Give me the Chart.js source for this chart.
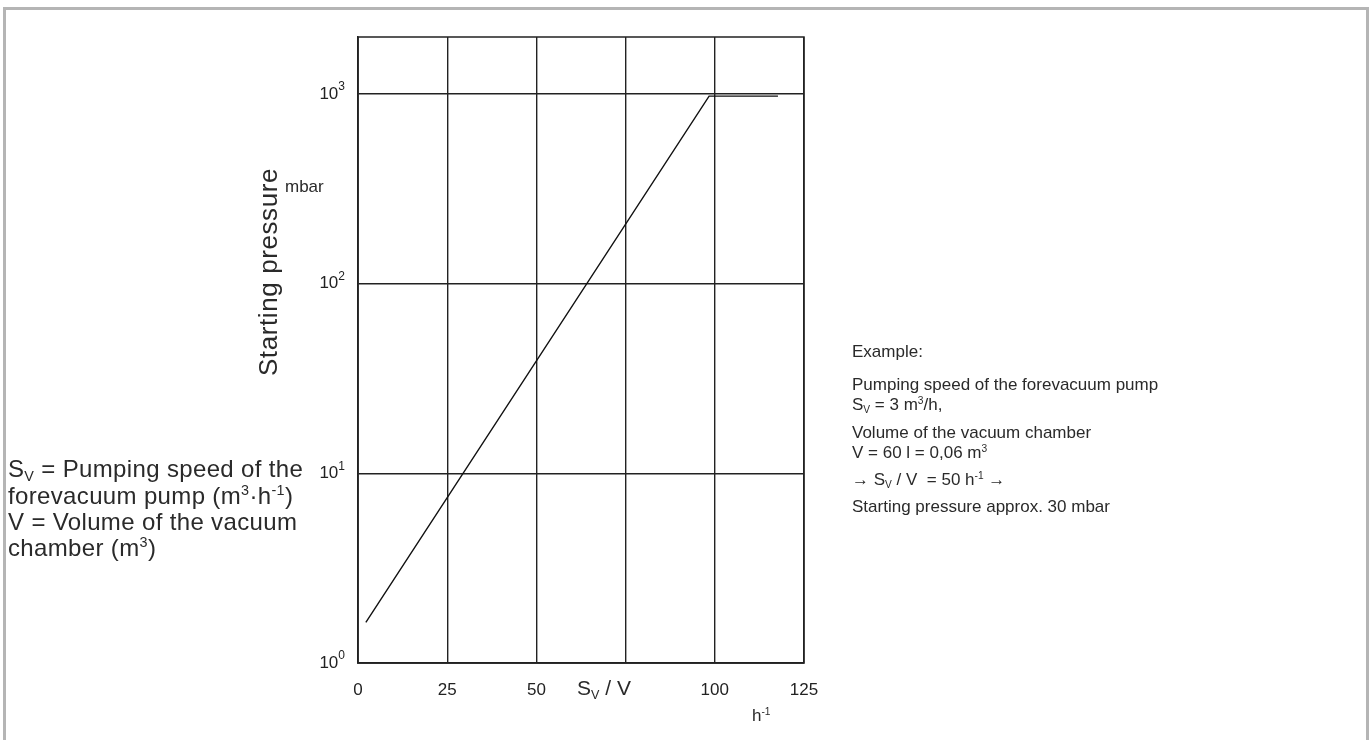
<!DOCTYPE html>
<html>
<head>
<meta charset="utf-8">
<script src="https://cdn.jsdelivr.net/npm/chart.js@4"></script>
<style>
  html, body { margin: 0; padding: 0; background: #fff; }
  body { width: 1372px; height: 740px; position: relative; overflow: hidden;
         font-family: "Liberation Sans", Arial, sans-serif; color: #2a2a2a; }
  #frame { position: absolute; left: 3px; top: 7px; width: 1360px; height: 800px;
           border: 3px solid #b5b5b5; border-bottom: none; }
  #chart { position: absolute; left: 0; top: 0; }
  .t { position: absolute; white-space: nowrap; line-height: 1; }
  .t sup { font-size: 60%; vertical-align: 0.6em; line-height: 0; }
  .t sub { font-size: 60%; vertical-align: -0.3em; line-height: 0; }
  .left { font-size: 24px; letter-spacing: 0.35px; }
  .right { font-size: 17px; }
  #ytitle { position: absolute; left: 268px; top: 272px; font-size: 26px; letter-spacing: 0.6px;
            transform: translate(-50%, -50%) rotate(-90deg); white-space: nowrap; line-height: 1; }
</style>
</head>
<body>
<div id="frame"></div>
<canvas id="chart" width="1372" height="740"></canvas>

<!-- 축 보조 라벨 -->
<div id="ytitle">Starting pressure</div>
<div class="t" style="left:285px; top:178px; font-size:17px;">mbar</div>
<div class="t" style="left:577px; top:677px; font-size:21px;">S<sub>V</sub> / V</div>
<div class="t" style="left:752px; top:707px; font-size:17px;">h<sup>-1</sup></div>

<!-- 왼쪽 설명 -->
<div class="t left" style="left:8px; top:457px;">S<sub>V</sub> = Pumping speed of the</div>
<div class="t left" style="left:8px; top:484px;">forevacuum pump (m<sup>3</sup>·h<sup>-1</sup>)</div>
<div class="t left" style="left:8px; top:510px;">V = Volume of the vacuum</div>
<div class="t left" style="left:8px; top:536px;">chamber (m<sup>3</sup>)</div>

<!-- 오른쪽 예시 -->
<div class="t right" style="left:852px; top:343px;">Example:</div>
<div class="t right" style="left:852px; top:376px;">Pumping speed of the forevacuum pump</div>
<div class="t right" style="left:852px; top:396px;">S<sub>V</sub> = 3 m<sup>3</sup>/h,</div>
<div class="t right" style="left:852px; top:424px;">Volume of the vacuum chamber</div>
<div class="t right" style="left:852px; top:444px;">V = 60 l = 0,06 m<sup>3</sup></div>
<div class="t right" style="left:852px; top:471px;">→ S<sub>V</sub> / V &nbsp;= 50 h<sup>-1</sup> →</div>
<div class="t right" style="left:852px; top:498px;">Starting pressure approx. 30 mbar</div>

<script>
'use strict';

// ── 데이터 ───────────────────────────────────────────
const speedRatio = [2.2, 98.4, 117.7];        // S_V / V  (h^-1)
const startPressure = [1.64, 975, 975];       // mbar
const xTickValues = [0, 25, 50, 75, 100, 125];
const xTickLabels = ['0', '25', '50', '', '100', '125'];
const yTickValues = [1, 10, 100, 1000];
const yTickExponents = ['0', '1', '2', '3'];

const INK = '#222';
const FONT = '"Liberation Sans", Arial, sans-serif';

// 플롯 영역 전체 테두리
const frameBox = {
  id: 'frameBox',
  afterDraw(chart) {
    const { ctx, chartArea: a } = chart;
    ctx.save();
    ctx.strokeStyle = INK;
    ctx.lineWidth = 1.5;
    ctx.strokeRect(a.left, a.top, a.right - a.left, a.bottom - a.top);
    ctx.restore();
  }
};

// y축 눈금: 10 + 위첨자 지수
const powerTicks = {
  id: 'powerTicks',
  afterDraw(chart) {
    const { ctx } = chart;
    const y = chart.scales.y;
    const right = chart.chartArea.left - 13;
    ctx.save();
    ctx.fillStyle = INK;
    ctx.textBaseline = 'middle';
    y.ticks.forEach((t, i) => {
      const py = y.getPixelForValue(t.value);
      const exp = yTickExponents[i];
      ctx.font = `12px ${FONT}`;
      const ew = ctx.measureText(exp).width;
      ctx.textAlign = 'right';
      ctx.fillText(exp, right, py - 7);
      ctx.font = `17px ${FONT}`;
      ctx.fillText('10', right - ew, py);
    });
    ctx.restore();
  }
};

new Chart(document.getElementById('chart'), {
  type: 'line',
  data: {
    datasets: [{
      data: speedRatio.map((x, i) => ({ x, y: startPressure[i] })),
      borderColor: '#111',
      borderWidth: 1.4,
      pointRadius: 0,
      tension: 0,
      fill: false,
    }]
  },
  options: {
    responsive: false,
    animation: false,
    layout: { padding: { left: 258, right: 568, top: 37, bottom: 27 } },
    plugins: { legend: { display: false }, tooltip: { enabled: false } },
    scales: {
      x: {
        type: 'linear',
        min: 0, max: 125,
        afterBuildTicks: s => { s.ticks = xTickValues.map(v => ({ value: v })); },
        afterFit: s => { s.height = 50; },
        ticks: {
          callback: (v, i) => xTickLabels[i],
          color: INK, padding: 17, maxRotation: 0, autoSkip: false,
          font: { family: FONT, size: 17 }
        },
        grid: { color: INK, lineWidth: 1.4, drawTicks: false },
        border: { color: INK, width: 1.5 },
      },
      y: {
        type: 'logarithmic',
        min: 1, max: 2000,
        afterBuildTicks: s => { s.ticks = yTickValues.map(v => ({ value: v })); },
        afterFit: s => { s.width = 100; },
        ticks: { display: false },
        grid: { color: INK, lineWidth: 1.4, drawTicks: false },
        border: { color: INK, width: 1.5 },
      }
    }
  },
  plugins: [frameBox, powerTicks]
});
</script>
</body>
</html>
